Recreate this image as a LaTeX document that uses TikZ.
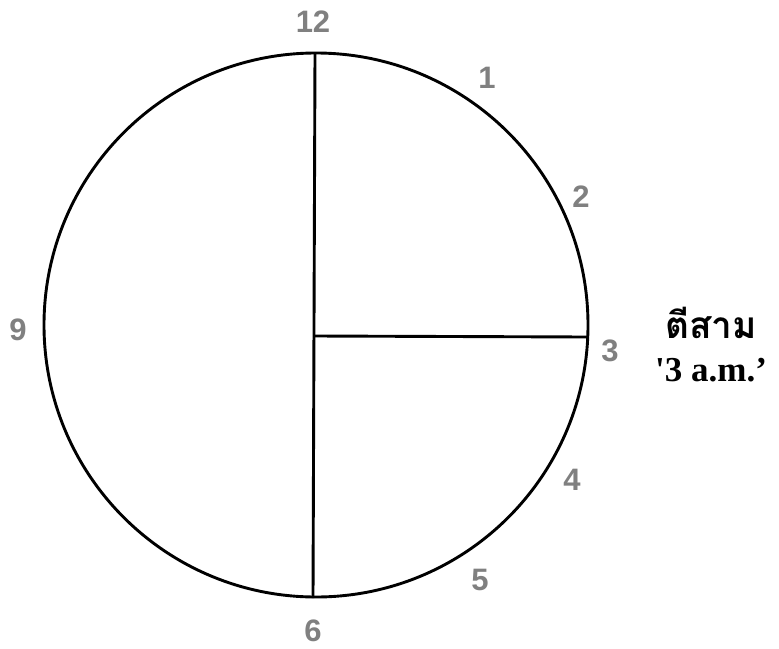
\documentclass[tikz,border=0pt]{standalone}
\usepackage{fontspec}
\setmainfont{Liberation Serif}
\newfontfamily\numfont{Liberation Sans}
\newfontfamily\thaifont[Script=Thai]{Loma}
\definecolor{numgray}{RGB}{128,128,128}
\begin{document}
\begin{tikzpicture}[x=1pt,y=-1pt,
  hour/.style={font=\numfont\bfseries\fontsize{31}{33}\selectfont, text=numgray, inner sep=0pt, anchor=center},
  rim/.style={line width=2.9pt, draw=black},
  hand/.style={line width=2.9pt, draw=black}]
\useasboundingbox (0,0) rectangle (779,648);
\fill[white] (0,0) rectangle (779,648);
\draw[rim] (316,325) circle (272);
\coordinate (top) at (315,53);
\coordinate (bot) at (313,598);
\coordinate (ctr) at (315,336);
\coordinate (rgt) at (587,337);
\draw[hand] (top) -- (bot);
\draw[hand] (ctr) -- (rgt);
\node[hour] (h12) at (313,22) {12};
\node[hour] (h1) at (487,78) {1};
\node[hour] (h2) at (581,197) {2};
\node[hour] (h3) at (610,351) {3};
\node[hour] (h4) at (572,480) {4};
\node[hour] (h5) at (480,580) {5};
\node[hour] (h6) at (313,631) {6};
\node[hour] (h9) at (18,330) {9};
\node[inner sep=0pt, anchor=base west, text depth=0pt, font=\thaifont\bfseries\fontsize{37}{39}\selectfont] (thai) at (665,338) {ตีสาม};
\node[inner sep=0pt, anchor=base west, text height=24pt, text depth=0pt, font=\bfseries\fontsize{35}{37}\selectfont] (eng) at (655,381) {\textquotesingle 3 a.m.’};
\end{tikzpicture}
\end{document}
